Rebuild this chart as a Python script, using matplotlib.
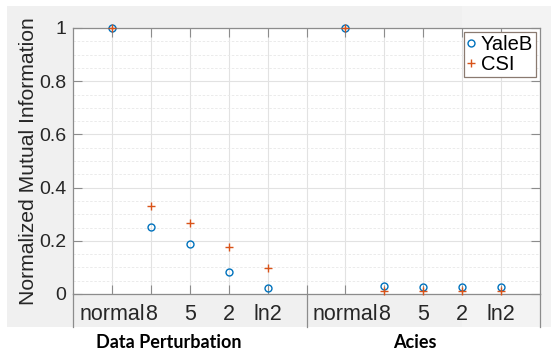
import matplotlib as mat
mat.use('Agg')
import matplotlib.pyplot as plt
import matplotlib.transforms as mtrans
from matplotlib.patches import Rectangle

# tick labels along x (two groups, empty slot between them)
tick_pos = [1, 2, 3, 4, 5, 6, 7, 8, 9, 10, 11]
tick_labels = ['normal', '8', '5', '2', 'ln2', '', 'normal', '8', '5', '2', 'ln2']

# point positions and values
x_pts = [1, 2, 3, 4, 5, 7, 8, 9, 10, 11]
yaleb = [1.0, 0.252, 0.188, 0.083, 0.022, 1.0, 0.030, 0.028, 0.027, 0.028]
csi = [1.0, 0.331, 0.267, 0.177, 0.098, 1.0, 0.012, 0.012, 0.012, 0.012]

group_names = ['Data Perturbation', 'Acies']

BLUE = '#0072BD'
ORANGE = '#D95319'
EDGE = '#8c8c8c'

plt.rcParams['font.family'] = ['Liberation Sans', 'DejaVu Sans']

fig = plt.figure(figsize=(5.51, 3.54), dpi=100)
fig.patch.set_facecolor('white')
# matlab-ish gray figure area
fig.patches.append(Rectangle((7 / 551, 27 / 354), 1 - 7 / 551, 321 / 354,
                             transform=fig.transFigure, facecolor='#f0f0f0',
                             edgecolor='none', zorder=-10))
fig.patches.append(Rectangle((462 / 551, 27 / 354), 89 / 551, 321 / 354,
                             transform=fig.transFigure, facecolor='white',
                             alpha=0.25, edgecolor='none', zorder=-9))

ax = fig.add_axes([73 / 551, 60 / 354, 467 / 551, 266 / 354])
ax.set_facecolor('white')

ax.plot(x_pts, yaleb, 'o', color=BLUE, mfc='none', ms=5, mew=1.0,
        label='YaleB', clip_on=False, zorder=3)
ax.plot(x_pts, csi, '+', color=ORANGE, ms=5.5, mew=1.0,
        label='CSI', clip_on=False, zorder=3)

ax.set_xlim(0, 12)
ax.set_ylim(0, 1)
ax.set_xticks(tick_pos)
ax.set_xticklabels(tick_labels, fontsize=15.5)
ax.set_yticks([0, 0.2, 0.4, 0.6, 0.8, 1])
ax.set_yticklabels(['0', '0.2', '0.4', '0.6', '0.8', '1'], fontsize=14)
ax.set_yticks([i * 0.05 for i in range(21)], minor=True)

ax.grid(True, which='major', color='#e2e2e2', lw=0.8)
ax.grid(True, which='minor', axis='y', color='#e8e8e8', lw=0.6, ls=(0, (3, 2)))
ax.set_axisbelow(True)

ax.tick_params(which='major', direction='in', length=6.5, width=0.8,
               color=EDGE, top=True, right=True, labelcolor='#262626')
ax.tick_params(which='minor', length=0)
ax.tick_params(axis='x', pad=7)
ax.tick_params(axis='y', pad=5)
for s in ax.spines.values():
    s.set_color(EDGE)
    s.set_linewidth(0.9)

ax.set_ylabel('Normalized Mutual Information', fontsize=15.2, color='#262626', labelpad=0.5)

# box under the x axis with group separator
trans = mtrans.blended_transform_factory(ax.transData, ax.transAxes)
for xv in [0, 6, 12]:
    ax.plot([xv, xv], [0, -33 / 266], color=EDGE, lw=0.9, transform=trans, clip_on=False)

for xc, name in zip([169, 415], group_names):
    fig.text(xc / 551, 1 - 343 / 354, name, ha='center', va='center',
             fontsize=13, fontweight='bold', family=['Lato', 'DejaVu Sans'])

leg = ax.legend(loc='upper right', fontsize=14.5, handlelength=0.4, handletextpad=0.3,
                borderpad=0.15, labelspacing=0.05, fancybox=False, framealpha=1,
                borderaxespad=0.2)
leg.get_frame().set_edgecolor('#8a7a70')
leg.get_frame().set_linewidth(0.9)

plt.savefig('out.png', dpi=100)
